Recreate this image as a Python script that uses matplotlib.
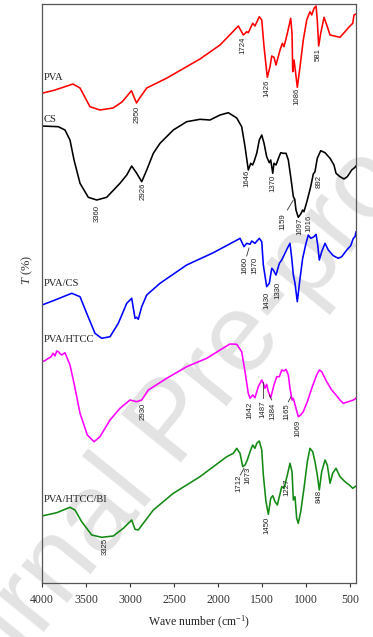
import matplotlib
matplotlib.use("Agg")
import matplotlib.pyplot as plt

plt.rcParams['font.family'] = ['Liberation Serif', 'DejaVu Serif']
plt.rcParams['mathtext.fontset'] = 'custom'
plt.rcParams['mathtext.rm'] = 'Liberation Serif'
plt.rcParams['mathtext.it'] = 'Liberation Serif:italic'

# ---------------- data (wavenumber, offset transmittance) ----------------
pva_wn = [4000, 3852, 3648, 3568, 3455, 3341, 3193, 3091, 2983, 2955, 2926, 2898, 2810, 2580,
          2205, 1977, 1769, 1712, 1674, 1656, 1606, 1580, 1531, 1503, 1477, 1440, 1409, 1390,
          1364, 1341, 1295, 1269, 1250, 1212, 1174, 1159, 1151, 1136, 1122, 1099, 1068, 1031,
          992, 955, 935, 909, 886, 872, 856, 833, 795, 758, 727, 614, 557, 508, 469, 455, 432]
pva_t = [489.7, 493, 499, 495, 476.3, 473, 475, 481, 492.3, 486, 480, 484, 495, 505,
         524, 538, 557, 548, 551.3, 550.3, 559.7, 557, 566.3, 563, 536.3, 505.7, 516.3, 527,
         525.7, 518, 533, 539.7, 536.3, 549.7, 564.7, 549.7, 511.3, 523, 513, 495.7, 516.3, 543,
         563, 571.3, 568, 574.7, 577, 563, 537, 549.7, 565.7, 556.3, 548, 545.7, 551.3, 556.3, 559.7, 568, 569]

cs_wn = [4000, 3815, 3739, 3682, 3636, 3568, 3474, 3378, 3265, 3114, 3037, 2981, 2924, 2867,
         2810, 2735, 2659, 2508, 2356, 2205, 2091, 1977, 1883, 1787, 1731, 1693, 1656, 1628,
         1606, 1591, 1560, 1531, 1503, 1477, 1447, 1417, 1401, 1378, 1364, 1341, 1303, 1287,
         1258, 1227, 1201, 1174, 1144, 1128, 1114, 1088, 1060, 1038, 1023, 985, 947, 917, 898,
         872, 833, 784, 727, 682, 659, 614, 568, 531, 481, 443, 432]
cs_t = [457, 456.3, 453, 443, 423, 399.7, 385.7, 383, 385.7, 399.7, 408, 417, 409.7, 401.3,
        413, 429.7, 439.7, 453, 461.3, 463.7, 463, 468, 470.3, 465, 456.3, 436.3, 413, 419.7,
        418, 421.3, 429.7, 443, 448, 439.7, 426.3, 420.3, 423, 409.7, 419.7, 418, 427, 430.3,
        429.7, 429.7, 423, 406.3, 386.3, 383.7, 373, 365.7, 369, 373, 371.3, 383, 396.3, 409, 411.3,
        424.7, 432.3, 430.3, 424.7, 418, 409.7, 406.3, 404, 406.3, 413, 415.7, 417]

pvacs_wn = [4000, 3872, 3662, 3568, 3492, 3398, 3322, 3227, 3133, 3037, 2981, 2943, 2924, 2906,
            2867, 2810, 2659, 2356, 2053, 1769, 1750, 1705, 1674, 1636, 1617, 1580, 1531, 1503,
            1485, 1447, 1417, 1390, 1372, 1341, 1303, 1276, 1258, 1212, 1182, 1162, 1144, 1125,
            1099, 1068, 1038, 1000, 974, 947, 909, 886, 867, 849, 822, 784, 747, 690, 633, 594,
            537, 492, 462, 443, 432]
pvacs_t = [278, 282.3, 289.7, 286.3, 269.7, 249.7, 244.7, 246.3, 259.7, 279.7, 284.7, 264.7, 265.7, 263.7,
           276.3, 288, 299.7, 318, 330.3, 343.7, 344.7, 336.3, 339.7, 338.7, 342, 339.7, 344.7, 341.3,
           318, 296.3, 299.7, 314.7, 313, 308, 319.7, 323, 326.3, 334.7, 339.7, 324.7, 308, 299.7,
           281.3, 304.7, 324.7, 339.7, 348, 344.7, 346.3, 348.7, 338, 323, 331.3, 339.7, 333, 327.3, 324.7, 326.3,
           333, 337.3, 344.7, 346.3, 351]

htcc_wn = [4000, 3964, 3928, 3900, 3872, 3852, 3833, 3815, 3795, 3776, 3739, 3682, 3636, 3568,
           3485, 3409, 3341, 3227, 3114, 3000, 2924, 2867, 2792, 2583, 2356, 2128, 1977, 1864,
           1787, 1731, 1693, 1656, 1636, 1606, 1580, 1542, 1503, 1485, 1466, 1447, 1428, 1401,
           1364, 1333, 1303, 1276, 1250, 1227, 1201, 1182, 1159, 1144, 1114, 1088, 1060, 1031,
           985, 935, 879, 849, 822, 765, 708, 659, 614, 576, 519, 462, 443, 432]
htcc_t = [221.3, 222.5, 224.7, 226, 229.7, 227, 232, 231.3, 229.5, 228, 230.3, 218, 199.7, 169.7,
          148, 141.3, 146.3, 163, 174.7, 183, 181.3, 183, 193, 204.7, 216.3, 224.7, 233, 239,
          238.7, 231.3, 211.3, 189.7, 184.7, 188, 185.3, 196.3, 203, 199.7, 194.7, 198.7, 191.3, 185.3,
          198, 206.3, 206.3, 213, 212, 213.7, 208, 194.7, 183, 184.7, 174.7, 166.3, 168, 171.3,
          181.3, 194.7, 208, 213, 211.3, 201.3, 193, 188, 183, 179.7, 181.3, 183, 184, 185]

bi_wn = [4000, 3833, 3682, 3625, 3549, 3435, 3322, 3190, 3076, 2981, 2943, 2906, 2849, 2735,
         2508, 2205, 2053, 1901, 1826, 1787, 1750, 1719, 1693, 1667, 1636, 1606, 1580, 1560,
         1531, 1503, 1485, 1455, 1428, 1401, 1378, 1352, 1326, 1276, 1250, 1212, 1182, 1159,
         1144, 1125, 1106, 1088, 1060, 1023, 985, 955, 924, 898, 872, 849, 822, 784, 758, 727,
         697, 659, 614, 557, 508, 469, 443, 432]
bi_t = [67, 70.3, 75.7, 73, 61.3, 48, 45.7, 47, 54.7, 63, 53.7, 53, 59.7, 73,
        89.7, 106.3, 116.3, 126.3, 129.7, 134.7, 129.7, 116.3, 118, 123, 131.3, 138, 134.7, 139.7,
        142, 133, 108, 81.3, 68.7, 84.7, 87.3, 81.3, 78, 96.3, 94.7, 108, 119.7, 111.3,
        83, 86.3, 64.7, 59.7, 71.3, 94.7, 121.3, 134.7, 131.3, 121.3, 108, 93, 111.3, 123, 118, 99.7,
        109.7, 114.7, 106.3, 101.3, 98, 94.7, 96.3, 97]

series_names = ['PVA', 'CS', 'PVA/CS', 'PVA/HTCC', 'PVA/HTCC/BI']
series_colors = ['#ff0000', '#000000', '#0000ff', '#ff00ff', '#138a13']
series_label_t = [505, 463, 300, 243.5, 83]

# peak annotations: (text, wavenumber, T of label top)
peak_labels = [
    ('2950', 2924, 477), ('1724', 1712, 546), ('1426', 1447, 503), ('1086', 1106, 495), ('581', 860, 535),
    ('3360', 3372, 378), ('2926', 2856, 400), ('1646', 1674, 413), ('1370', 1378, 408),
    ('1159', 1258, 370), ('1097', 1068, 365), ('1016', 962, 368), ('892', 849, 408),
    ('1660', 1693, 326), ('1570', 1580, 326), ('1430', 1440, 291), ('1330', 1315, 301),
    ('2930', 2856, 180), ('1642', 1636, 181), ('1487', 1485, 183), ('1384', 1372, 180),
    ('1165', 1220, 180), ('1069', 1088, 163),
    ('3325', 3284, 44.7), ('1712', 1762, 108), ('1673', 1656, 116.3), ('1450', 1440, 66.3),
    ('1227', 1212, 105), ('848', 849, 93),
]
# leader lines: (wn1, t1, wn2, t2)
leaders = [
    (1212, 373, 1144, 383),
    (1674, 327, 1648, 335),
    (1485, 185, 1485, 201),
    (1390, 183, 1417, 188),
    (1201, 181.3, 1170, 186.3),
    (1746, 108, 1705, 114.7),
]

xticks = [4000, 3500, 3000, 2500, 2000, 1500, 1000, 500]

# ---------------- figure ----------------
W, H = 373, 637
fig = plt.figure(figsize=(W / 100, H / 100), dpi=100)
fig.patch.set_facecolor('white')

# watermark
fig.text(175 / W, 1 - 425 / H, 'Journal Pre-proof', rotation=51, fontsize=80,
         color='#e3e3e3', ha='center', va='center', family='Liberation Sans',
         rotation_mode='anchor', zorder=-5)

ax = fig.add_axes([42 / W, 1 - 583 / H, 314 / W, 579 / H])
ax.set_facecolor('none')

all_wn = [pva_wn, cs_wn, pvacs_wn, htcc_wn, bi_wn]
all_t = [pva_t, cs_t, pvacs_t, htcc_t, bi_t]
for wn, t, c in zip(all_wn, all_t, series_colors):
    ax.plot(wn, t, color=c, lw=1.15, solid_joinstyle='round')

for name, ty in zip(series_names, series_label_t):
    ax.text(3978, ty, name, ha='left', va='center', fontsize=7.6, color='#222222')

for txt, wn, ty in peak_labels:
    ax.text(wn, ty, txt, rotation=90, ha='center', va='top', fontsize=5.6,
            family='Liberation Sans', color='#222222')

for w1, t1, w2, t2 in leaders:
    ax.plot([w1, w2], [t1, t2], color='#333333', lw=0.6)

ax.set_xlim(4000, 432)
ax.set_ylim(0, 579)
ax.set_xticks(xticks)
ax.set_xticklabels([str(v) for v in xticks])
ax.set_yticks([])
ax.tick_params(axis='x', direction='out', length=3, width=0.8, pad=5,
               labelsize=8.5, colors='#333333')
for s in ax.spines.values():
    s.set_color('#555555')
    s.set_linewidth(0.9)

ax.set_xlabel('Wave number (cm$^{-1}$)', fontsize=8.5, color='#222222')
ax.xaxis.label.set_va('center')
ax.xaxis.set_label_coords(0.5, -0.069)
ax.set_ylabel('$T$ (%)', fontsize=9, color='#333333')
ax.yaxis.label.set_va('center')
ax.yaxis.set_label_coords(-0.048, 0.54)

fig.savefig('out.png', dpi=100)
